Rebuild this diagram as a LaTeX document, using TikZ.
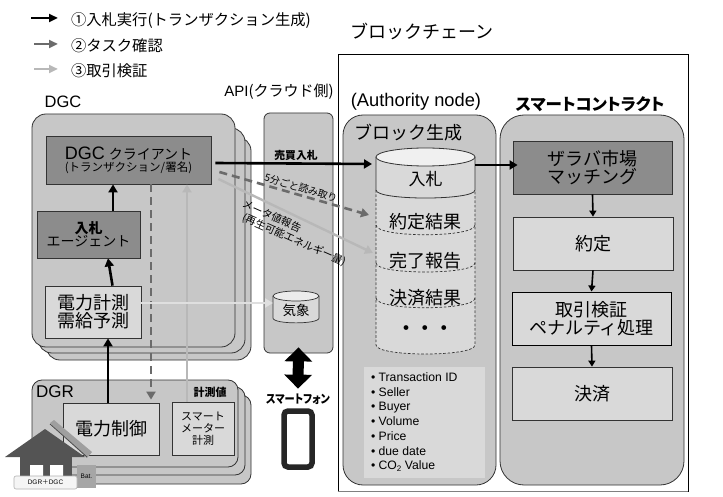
\documentclass[tikz,border=0pt]{standalone}
\usepackage{fontspec}
\setmainfont{Noto Sans CJK JP}
\newfontfamily\jpp{Noto Sans CJK JP}[RawFeature=+palt]
\newfontfamily\lat{Liberation Sans}
\usetikzlibrary{arrows.meta,calc}
\newcommand{\fs}[2]{\fontsize{#1}{#2}\selectfont}
\newcommand{\pbox}[7]{%
  \pgfmathsetmacro\cxx{(#2+#4)/2}\pgfmathsetmacro\cyy{(#3+#5)/2}%
  \pgfmathsetmacro\www{#4-#2}\pgfmathsetmacro\hhh{#5-#3}%
  \node[#6,minimum width=\www pt,minimum height=\hhh pt,inner sep=0pt,align=center] (#1) at (\cxx,\cyy) {#7};}
\definecolor{panel}{gray}{0.78}
\definecolor{darkbox}{gray}{0.55}
\definecolor{lightbox}{gray}{0.85}
\definecolor{edge}{gray}{0.2}
\definecolor{dashg}{gray}{0.42}
\definecolor{lightg}{gray}{0.72}
\definecolor{housec}{gray}{0.33}
\tikzset{
  panelbox/.style={draw=edge,fill=panel,line width=0.8pt},
  stackbox/.style={panelbox,rounded corners=14pt},
  darkrect/.style={draw=edge,fill=darkbox,line width=0.8pt},
  lightrect/.style={draw=edge,fill=lightbox,line width=0.8pt},
  free/.style={inner sep=0pt,outer sep=0pt},
  flowA/.style={draw=black,line width=2.6pt,-{Triangle[width=9pt,length=8pt]}},
  flowB/.style={draw=dashg,line width=2.6pt,dash pattern=on 8pt off 5pt,-{Triangle[width=9pt,length=8pt]}},
  flowC/.style={draw=lightg,line width=2.4pt,-{Triangle[width=9pt,length=8pt]}},
  flowD/.style={draw=black,line width=1.6pt,-{Triangle[width=7pt,length=6pt]}},
  cyldash/.style={draw=edge,line width=0.7pt,dash pattern=on 2.6pt off 1.8pt},
}
\begin{document}
\begin{tikzpicture}[x=1pt,y=-1pt]
\useasboundingbox (0,0) rectangle (723,497);
\fill[white] (0,0) rectangle (723,497);
% legend
\coordinate (la1) at (31,18); \coordinate (la2) at (58,18);
\coordinate (lb1) at (34,44); \coordinate (lb2) at (58,44);
\coordinate (lc1) at (34,69); \coordinate (lc2) at (58,69);
\draw[draw=black,line width=2.4pt,-{Triangle[width=8pt,length=9pt]}] (la1) -- (la2);
\draw[draw=dashg,line width=2.4pt,-{Triangle[width=8pt,length=9pt]}] (lb1) -- (lb2);
\draw[draw=lightg,line width=2.4pt,-{Triangle[width=8pt,length=9pt]}] (lc1) -- (lc2);
\node[free,anchor=west,font=\fs{15.3}{18}] (lta) at (71,21) {①入札実行(トランザクション生成)};
\node[free,anchor=west,font=\fs{15.3}{18}] (ltb) at (71,46) {②タスク確認};
\node[free,anchor=west,font=\fs{15.3}{18}] (ltc) at (71,71) {③取引検証};
% chain frame
\pbox{chain}{338}{54}{688}{491}{draw=black,fill=white,line width=0.9pt}{}
\draw[gray,line width=1.4pt] (chain.south west) -- (chain.south east);
\node[free,font=\fs{18}{20}] (chaint) at (422,31) {ブロックチェーン};
\node[free,font=\fs{15}{18}] (apit) at (279,92) {{\lat API}(クラウド側)};
\node[free,font=\lat\fs{16.5}{20}] (dgct) at (63,102) {DGC};
\node[free,font=\lat\fs{18.3}{20}] (autht) at (416,102) {(Authority node)};
\node[free,font=\jpp\bfseries\fs{16.5}{18}] (smt) at (590,104) {スマートコントラクト};
% DGC stack
\pbox{dgcc}{46}{137}{251}{360}{stackbox}{}
\pbox{dgcb}{38}{128}{245}{353}{stackbox}{}
\pbox{dgca}{32}{114}{235}{347}{stackbox}{}
\pbox{client}{46}{136}{211}{184}{darkrect}{\fs{18}{17}{\lat DGC} {\fs{14}{17}クライアント}\\\fs{11.5}{17}(トランザクション/署名)}
\pbox{agent}{37}{211}{140}{258}{darkrect}{{\fs{14}{18}\bfseries 入札}\\{\fs{14}{18}エージェント}}
\pbox{meas}{45}{286}{141}{338}{lightrect}{\fs{18}{22}電力計測\\\fs{18}{22}需給予測}
% API
\pbox{api}{264}{113}{333}{353}{panelbox,rounded corners=6pt}{}
\node[free,font=\bfseries\fs{10.8}{12}] (bidt) at (296,155) {売買入札};
% weather cylinder
\fill[lightbox] (273,296) -- (273,318) .. controls (273,324.5) and (319,324.5) .. (319,318) -- (319,296) -- cycle;
\draw[edge,line width=0.7pt] (273,296) -- (273,318) .. controls (273,324.5) and (319,324.5) .. (319,318) -- (319,296);
\draw[edge,fill=gray!15,line width=0.7pt] (296,296) ellipse[x radius=23pt,y radius=5pt];
\pbox{kisho}{273}{298}{319}{322}{free}{\fs{13.5}{16}気象}
% DGR stack
\pbox{dgrc}{45}{395}{251}{484}{panelbox,rounded corners=10pt}{}
\pbox{dgrb}{38}{387}{245}{475}{panelbox,rounded corners=10pt}{}
\pbox{dgra}{32}{380}{238}{467}{panelbox,rounded corners=10pt}{}
\node[free,font=\lat\fs{17}{20}] (dgrt) at (55,392) {DGR};
\pbox{ctrl}{63}{403}{159}{455}{lightrect}{\fs{18}{24}電力制御}
\pbox{meter}{172}{402}{234}{455}{lightrect}{\fs{11}{15}スマート\\\fs{11}{15}メーター\\\fs{11}{15}計測}
\node[free,font=\bfseries\fs{11}{13}] (meast) at (210,392) {計測値};
% smartphone
\node[free,xscale=0.85,font=\jpp\bfseries\fs{12}{14}] (phonet) at (298,399) {スマートフォン};
\pbox{phone}{284}{411}{312}{467}{draw=black!85,fill=white,line width=5.5pt,rounded corners=4pt}{}
\draw[line width=11pt,black,{Triangle[width=27pt,length=14pt]}-{Triangle[width=27pt,length=14pt]}] ([yshift=6pt]api.south) -- ([yshift=5pt]phonet.north);
% block panel
\pbox{block}{343}{115}{496}{485}{panelbox,rounded corners=20pt}{}
\node[free,font=\fs{18}{21}] (blockt) at (408,133) {ブロック生成};
\pbox{smart}{500}{115}{684}{485}{panelbox,rounded corners=24pt}{}
% ledger cylinder
\fill[lightbox] (376,170) rectangle (475,345) (376,345) .. controls (376,357) and (475,357) .. (475,345) -- cycle;
\draw[cyldash] (376,190) -- (376,345) .. controls (376,357) and (475,357) .. (475,345) -- (475,190);
\draw[cyldash] (376,225) .. controls (376,238) and (475,238) .. (475,225);
\draw[cyldash] (376,263) .. controls (376,275) and (475,275) .. (475,263);
\draw[cyldash] (376,298) .. controls (376,311) and (475,311) .. (475,298);
\draw[draw=edge,fill=lightbox,line width=0.8pt] (376,157) -- (376,190) .. controls (376,200.7) and (475,200.7) .. (475,190) -- (475,157);
\draw[draw=edge,fill=gray!12,line width=0.8pt] (425.5,157) ellipse[x radius=49.5pt,y radius=9pt];
\pbox{bid}{376}{160}{475}{198}{free}{\fs{17}{20}入札}
\pbox{yaku}{376}{203}{475}{240}{free}{\fs{18}{20}約定結果}
\pbox{done}{376}{242}{475}{279}{free}{\fs{18}{20}完了報告}
\pbox{settle}{376}{279}{475}{316}{free}{\fs{18}{20}決済結果}
\node[free,font=\bfseries\fs{17}{20}] (dots) at (425,330) {・\kern2pt・\kern2pt・};
% attribute list
\pbox{attr}{364}{367}{485}{478}{fill=lightbox}{}
\node[free,anchor=west,align=left,font=\lat\fs{12.2}{14.7}] (attrt) at (371,422) {• Transaction ID\\• Seller\\• Buyer\\• Volume\\• Price\\• due date\\• CO{\fs{8}{8}\raisebox{-1.5pt}{2}} Value};
% smart contract boxes
\pbox{match}{513}{141}{672}{194}{darkrect}{\fs{18}{22}ザラバ市場\\\fs{18}{22}マッチング}
\pbox{agree}{513}{217}{673}{270}{lightrect}{\fs{18}{22}約定}
\pbox{verify}{512}{292}{671}{345}{draw=black,fill=lightbox,line width=0.9pt}{\fs{18}{23}取引検証\\\fs{18}{23}ペナルティ処理}
\pbox{pay}{512}{367}{672}{420}{lightrect}{\fs{18}{22}決済}
% house
\fill[housec] (20,455) rectangle (72,480);
\fill[white] (30,465) rectangle (43,479) (50,465) rectangle (63,479);
\fill[housec] (5,457) -- (45,429) -- (85,457) -- cycle;
\fill[gray!75] (50,423) -- (54,420) -- (92,452) -- (87,458) -- cycle;
\draw[gray!60!black,line width=0.8pt] (50,424) -- (87,457);
\pbox{bat}{77}{465}{96}{488}{fill=gray!70}{\lat\fs{6.5}{8}Bat.}
\pbox{house}{14}{476}{77}{489}{draw=gray!60,fill=gray!8,line width=0.6pt,rounded corners=2pt}{\lat\fs{6.5}{8}DGR{\normalfont\fs{6.5}{8}＋}DGC}
% connectors
\draw[flowA] ([xshift=24.5pt]agent.north) -- ([xshift=-15.5pt]client.south);
\draw[flowA] ([xshift=19.5pt]meas.north) -- ([xshift=19.5pt]agent.south);
\draw[flowA] ([xshift=-3pt]ctrl.north) -- ([xshift=15pt]meas.south);
\draw[flowB] ([xshift=22.5pt]client.south) -- ([xshift=40pt,yshift=3pt]ctrl.north);
\draw[flowC] ([xshift=-16pt]meter.north) -- ([xshift=58.5pt]client.south);
\draw[draw=gray!25,line width=2.4pt,-{Triangle[width=9pt,length=8pt]}] ([yshift=9pt]meas.east) -- ([yshift=7pt]kisho.west);
\draw[flowA] ([xshift=4pt,yshift=-3pt]client.east) -- ([xshift=-4pt,yshift=15pt]bid.west);
\draw[flowB] ([xshift=8pt,yshift=-12pt]client.east) -- ([xshift=-7pt,yshift=6.5pt]yaku.west);
\draw[flowC] ([xshift=7pt,yshift=-19pt]client.east) -- ([xshift=-3pt,yshift=7.5pt]done.west);
\draw[flowA] ([yshift=14pt]bid.east) -- ([xshift=5pt,yshift=2.5pt]match.west);
\draw[flowD] (match.south) -- (agree.north);
\draw[flowD] (agree.south) -- (verify.north);
\draw[flowD] (verify.south) -- (pay.north);
% line labels
\node[free,rotate=-17,font=\fs{10}{12}] (lab1) at (301,188) {5分ごと読み取り};
\node[free,rotate=-24,font=\fs{10.5}{12}] (lab2) at (272,216) {メータ値報告};
\node[free,rotate=-24,font=\fs{10.5}{12}] (lab3) at (294,240) {(再生可能エネルギー量)};
\end{tikzpicture}
\end{document}
